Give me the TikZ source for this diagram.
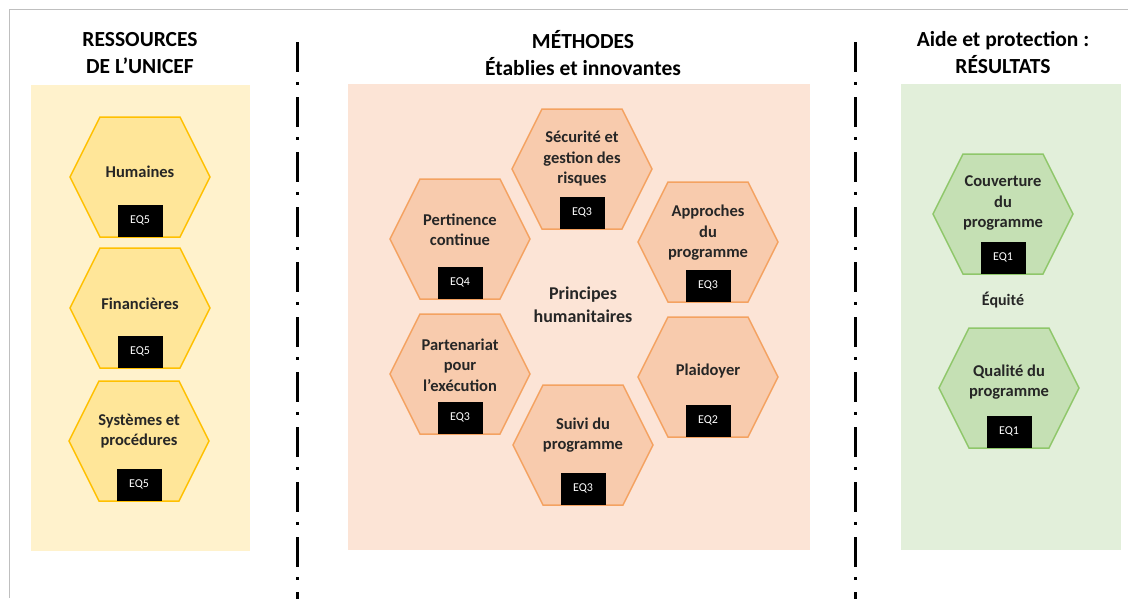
\documentclass[tikz,border=0pt]{standalone}
\usepackage{fontspec}
\setmainfont{Carlito}
\definecolor{ybg}{HTML}{FFF2CC}
\definecolor{yfill}{HTML}{FFE699}
\definecolor{ydraw}{HTML}{FFC000}
\definecolor{obg}{HTML}{FCE4D6}
\definecolor{ofill}{HTML}{F8CBAD}
\definecolor{odraw}{HTML}{F4A261}
\definecolor{gbg}{HTML}{E2EFDA}
\definecolor{gfill}{HTML}{C5E0B4}
\definecolor{gdraw}{HTML}{8FC76A}
\definecolor{txt}{HTML}{262626}
\definecolor{framegray}{HTML}{BFBFBF}
\newcommand\hexa[7]{%
  \draw[#4] (#2-70,#3) -- (#2-40,#3-60) -- (#2+40,#3-60) -- (#2+70,#3) -- (#2+40,#3+60) -- (#2-40,#3+60) -- cycle;
  \node[hextext] (#1) at (#2,#3+#5) {#6};
  \node[eqbox] (#1eq) at (#2,#3+60) {#7};
}
\begin{document}
\begin{tikzpicture}[x=1pt,y=-1pt,
  hexY/.style={fill=yfill,draw=ydraw,line width=1.5pt},
  hexO/.style={fill=ofill,draw=odraw,line width=1.5pt},
  hexG/.style={fill=gfill,draw=gdraw,line width=1.5pt},
  hextext/.style={align=center,text=txt,font=\fontsize{16.5}{20.5}\selectfont\bfseries,inner sep=0pt},
  eqbox/.style={anchor=south,fill=black,text=white,minimum width=45pt,minimum height=32pt,inner sep=0pt,font=\fontsize{12}{14}\selectfont},
  title/.style={align=center,text=black,font=\fontsize{21.5}{27}\selectfont\bfseries,inner sep=0pt},
  sep/.style={line width=3pt,dash pattern=on 30pt off 10pt on 3pt off 12pt}]
\useasboundingbox (0,0) rectangle (1128,598);
\fill[white] (0,0) rectangle (1128,598);
% frame
\draw[framegray,line width=1.5pt] (9.5,598) -- (9.5,9.5) -- (1128,9.5);
% backgrounds
\fill[ybg] (31,85) rectangle (250,551);
\fill[obg] (348,84) rectangle (810,550);
\fill[gbg] (901,84) rectangle (1121,550);
% separators
\coordinate (s1t) at (297,42); \coordinate (s1b) at (297,600);
\coordinate (s2t) at (855,42); \coordinate (s2b) at (855,600);
\draw[sep] (s1t) -- (s1b);
\draw[sep] (s2t) -- (s2b);
% titles
\node[title] (t1) at (140,53) {RESSOURCES\\DE L’UNICEF};
\node[title] (t2) at (583,53) {MÉTHODES\\Établies et innovantes};
\node[title] (t3) at (1003,53) {Aide et protection :\\RÉSULTATS};
% left column
\hexa{hum}{140}{177}{hexY}{-5}{Humaines}{EQ5}
\hexa{fin}{140}{308}{hexY}{-4}{Financières}{EQ5}
\hexa{sys}{139}{441}{hexY}{-10}{Systèmes et\\procédures}{EQ5}
% middle
\hexa{sec}{582}{169}{hexO}{-10}{Sécurité et\\gestion des\\risques}{EQ3}
\hexa{per}{460}{239}{hexO}{-9}{Pertinence\\continue}{EQ4}
\hexa{app}{708}{242}{hexO}{-9}{Approches\\du\\programme}{EQ3}
\hexa{par}{460}{374}{hexO}{-9}{Partenariat\\pour\\l’exécution}{EQ3}
\hexa{pla}{708}{377}{hexO}{-6}{Plaidoyer}{EQ2}
\hexa{sui}{583}{445}{hexO}{-10}{Suivi du\\programme}{EQ3}
\node[hextext,font=\fontsize{18}{23}\selectfont\bfseries] (pri) at (583,305) {Principes\\humanitaires};
% right
\hexa{cou}{1003}{214}{hexG}{-11}{Couverture\\du\\programme}{EQ1}
\node[hextext,font=\fontsize{16}{19}\selectfont\bfseries] (equ) at (1003,300) {Équité};
\hexa{qua}{1009}{388}{hexG}{-6}{Qualité du\\programme}{EQ1}
\end{tikzpicture}
\end{document}
